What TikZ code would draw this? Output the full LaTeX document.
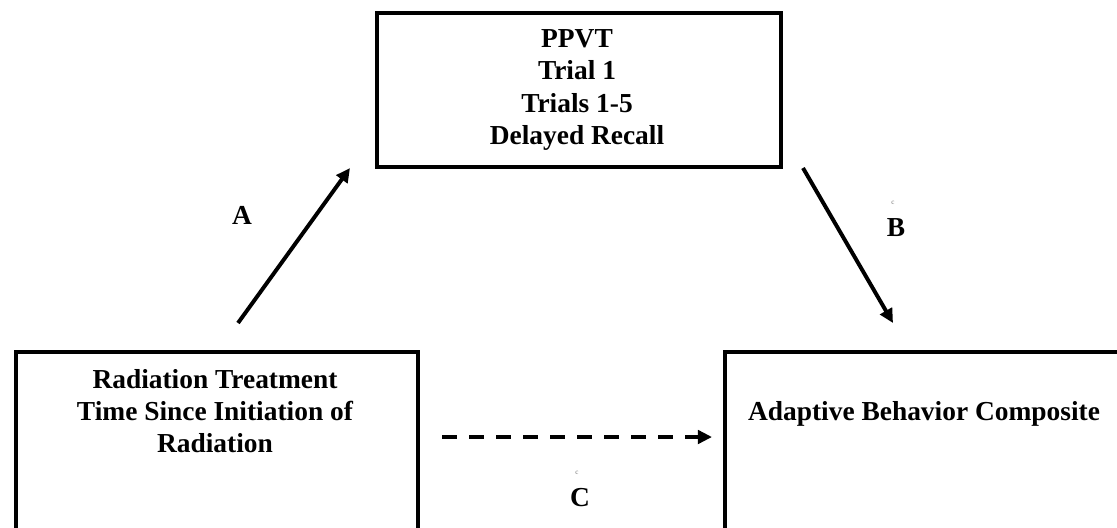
\documentclass[tikz,border=0pt]{standalone}
\usepackage{fontspec}
\setmainfont{Liberation Serif}
\usetikzlibrary{arrows.meta}
\begin{document}
\begin{tikzpicture}
[x=0.025cm, y=-0.025cm, line width=2.8pt, >={Triangle[length=10pt,width=9.5pt]},
 box/.style={draw, line width=2.7pt, inner sep=0pt, anchor=north west},
 txt/.style={font=\fontsize{19.5pt}{22.8pt}\selectfont\bfseries, align=center, inner sep=0pt},
 tinyc/.style={font=\fontsize{5pt}{6pt}\selectfont, text=black!55, inner sep=0pt}]
\useasboundingbox (0,0) rectangle (1117,527);
\clip (0,0) rectangle (1117,527);

\node (med) [box, minimum width=10.1cm, minimum height=3.85cm] at (375,11) {};
\node (treat) [box, minimum width=10.05cm, minimum height=6cm] at (14,350) {};
\node (abc) [box, minimum width=10.05cm, minimum height=6cm] at (723,350) {};

\node (medtxt) [txt, anchor=north] at (577,28) {PPVT\\Trial 1\\Trials 1-5\\Delayed Recall};
\node (treattxt) [txt, anchor=north] at (215,367) {Radiation Treatment\\Time Since Initiation of\\Radiation};
\node (abctxt) [txt, anchor=base] at (924,420) {Adaptive Behavior Composite};

\coordinate (a0) at (238,323);
\coordinate (a1) at (350,168);
\coordinate (b0) at (803,168);
\coordinate (b1) at (893,323);
\coordinate (c0) at (442,437);
\coordinate (c1) at (712,437);
\draw[->] (a0) -- (a1);
\draw[->] (b0) -- (b1);
\draw[->, line width=3pt, dash pattern=on 10.7pt off 8.5pt] (c0) -- (c1);

\node (A) [txt] at (242,215) {A};
\node (B) [txt] at (896,228) {B};
\node (C) [txt] at (580,498) {C};
\node (cb) [tinyc] at (893,203) {c};
\node (cc) [tinyc] at (577,473) {c};
\end{tikzpicture}
\end{document}
